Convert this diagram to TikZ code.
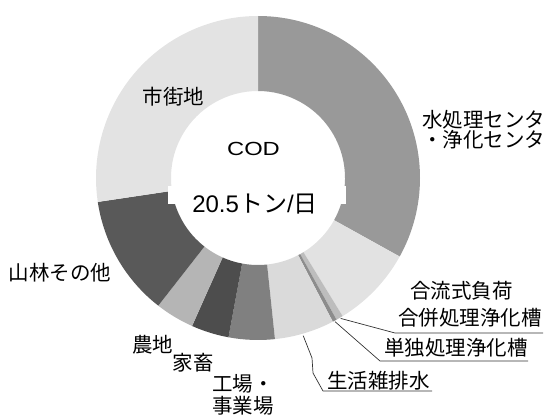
\documentclass[tikz,border=0pt]{standalone}
\usepackage{fontspec}
\newfontfamily\jp{Noto Sans CJK JP}
\newfontfamily\lat{Liberation Sans}
\definecolor{cWater}{HTML}{999999}
\definecolor{cGoryu}{HTML}{E2E2E2}
\definecolor{cGappei}{HTML}{BDBDBD}
\definecolor{cTandoku}{HTML}{8C8C8C}
\definecolor{cSeikatsu}{HTML}{DADADA}
\definecolor{cKojo}{HTML}{808080}
\definecolor{cKachiku}{HTML}{4D4D4D}
\definecolor{cNochi}{HTML}{B5B5B5}
\definecolor{cSanrin}{HTML}{595959}
\definecolor{cShigai}{HTML}{E3E3E3}
\newcommand{\ringslice}[3]{%
  \fill[#3] ($(C)+(#1:162)$) arc[start angle=#1, end angle=#2, radius=162]
    -- ($(C)+(#2:87)$) arc[start angle=#2, end angle=#1, radius=87] -- cycle;}
\usetikzlibrary{calc}
\tikzset{
  lbl/.style={inner sep=0pt, font=\jp\fontsize{20.5}{22}\selectfont, text=black},
  leader/.style={draw=black!80, line width=0.7pt, line join=round},
}
\begin{document}
\begin{tikzpicture}[x=1pt,y=1pt]
\useasboundingbox (0,0) rectangle (547,416);
\clip (0,0) rectangle (547,416);
\coordinate (C) at (258,238);
% ring slices
\ringslice{90}{-29}{cWater}
\ringslice{-29}{-58.5}{cGoryu}
\ringslice{-58.5}{-61}{cGappei}
\ringslice{-61}{-62.5}{cTandoku}
\ringslice{-62.5}{-84}{cSeikatsu}
\ringslice{-84}{-100.5}{cKojo}
\ringslice{-100.5}{-114}{cKachiku}
\ringslice{-114}{-128}{cNochi}
\ringslice{-128}{-171.5}{cSanrin}
\ringslice{-171.5}{-270}{cShigai}
% centre label background
\fill[white] (168,212) rectangle (346,230);
\node[inner sep=0pt, font=\lat\fontsize{19}{22}\selectfont] (cod) at (253.5,267.5) {\scalebox{1.25}[1]{COD}};
\node[inner sep=0pt, font=\lat\fontsize{24}{26}\selectfont] (total) at (255,212) {20.5{\jp トン}/{\jp 日}};
% labels
\node[lbl] (shigai) at (173.5,319.5) {市街地};
\node[lbl] (sanrin) at (60,143) {山林その他};
\node[lbl, anchor=base west] (water1) at (422,288) {水処理センター};
\node[lbl, anchor=base west] (water2) at (422,268.5) {・浄化センター};
\node[lbl] (goryu) at (461.5,125) {合流式負荷};
\node[lbl] (gappei) at (470,98) {合併処理浄化槽};
\node[lbl] (tandoku) at (456,68) {単独処理浄化槽};
\node[lbl] (seikatsu) at (378.5,35) {生活雑排水};
\node[lbl] (nochi) at (152.5,71) {農地};
\node[lbl] (kachiku) at (193,53) {家畜};
\node[lbl, anchor=base west] (kojo1) at (212,25) {工場・};
\node[lbl, anchor=base west] (kojo2) at (212,2.4) {事業場};
% leader lines
\coordinate (gpS) at ($(C)+(-59.5:163)$);
\coordinate (gpK) at (395,83);
\coordinate (gpE) at (543,83);
\coordinate (tdS) at ($(C)+(-61.8:163)$);
\coordinate (tdK) at (380,55);
\coordinate (tdE) at (528,55);
\coordinate (skS) at ($(C)+(-74:164)$);
\coordinate (skK1) at (312,58);
\coordinate (skK2) at (313,43);
\coordinate (skK3) at (323,25);
\coordinate (skE) at (432,25);
\draw[leader] (gpS) -- (gpK) -- (gpE);
\draw[leader] (tdS) -- (tdK) -- (tdE);
\draw[leader] (skS) -- (skK1) -- (skK2) -- (skK3) -- (skE);
\end{tikzpicture}
\end{document}
